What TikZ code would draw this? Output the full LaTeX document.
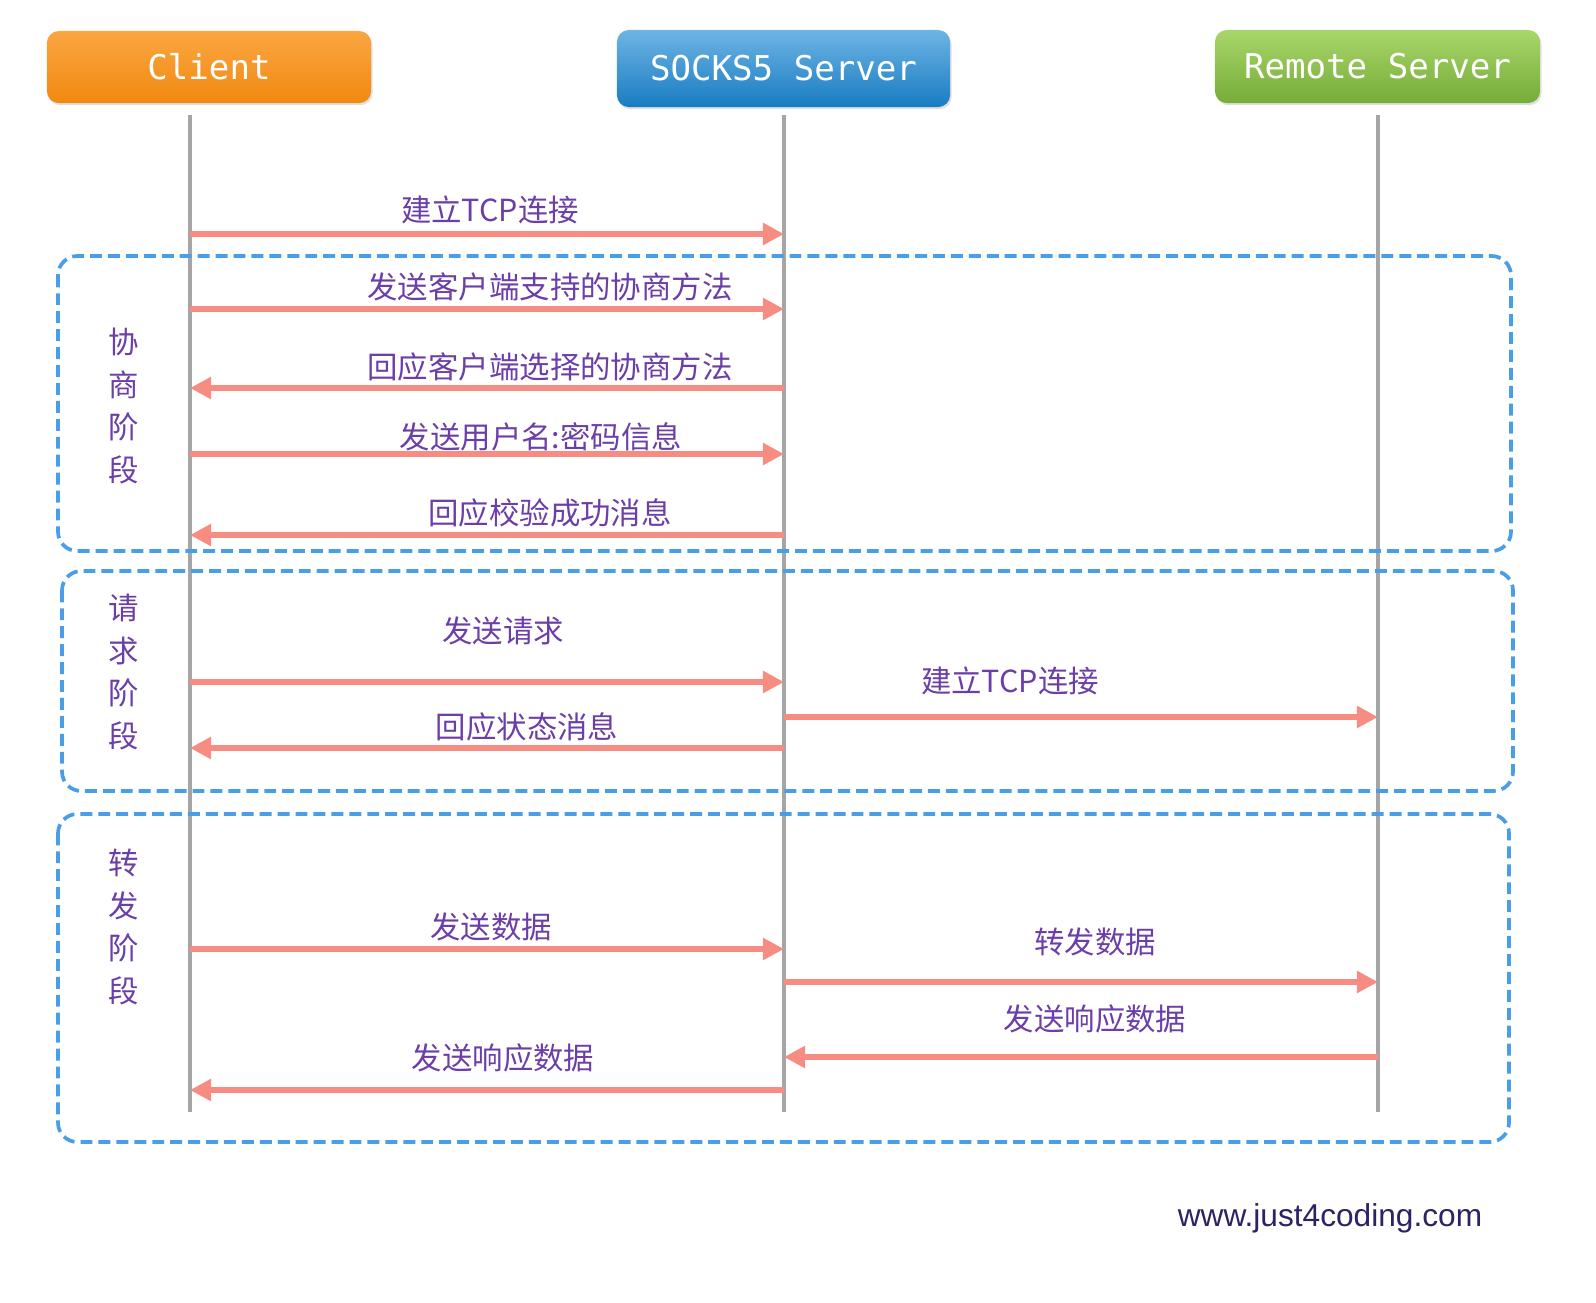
\documentclass[tikz,border=0pt]{standalone}
\usepackage{fontspec}
\newfontfamily\cjk{Noto Sans CJK SC}
\newfontfamily\headfont{DejaVu Sans Mono}
\newfontfamily\webfont{Liberation Sans}
\usepackage{tikz}
\usetikzlibrary{arrows.meta, shadows}
\definecolor{msgred}{RGB}{246,140,130}
\definecolor{txtpurple}{RGB}{108,62,168}
\definecolor{phaseblue}{RGB}{74,158,232}
\definecolor{lifegray}{RGB}{165,165,165}
\definecolor{webnavy}{RGB}{45,35,100}

\tikzset{
  head/.style={rounded corners=3.4pt, text=white, font=\headfont\fontsize{9.7}{11}\selectfont,
    drop shadow={opacity=0.25, shadow xshift=0.4pt, shadow yshift=-0.6pt}},
  life/.style={lifegray, line width=1pt},
  msg/.style={msgred, line width=1.6pt, -{Triangle[length=6pt,width=6pt]}},
  msgtext/.style={text=txtpurple, font=\cjk\fontsize{8.65}{10}\selectfont},
  phase/.style={phaseblue, line width=1.05pt, dash pattern=on 3.4pt off 1.7pt, rounded corners=5.5pt},
  phasetext/.style={text=txtpurple, font=\cjk\fontsize{8.65}{12.2}\selectfont, align=center}
}

\begin{document}
\begin{tikzpicture}[x=0.01cm, y=-0.01cm]
    \useasboundingbox (0,0) rectangle (1596,1302);

    % Header boxes
    \node[head, top color={rgb,255:red,250;green,166;blue,66}, bottom color={rgb,255:red,241;green,137;blue,16},
      minimum width=3.24cm, minimum height=0.72cm] (client) at (209,67) {Client};
    \node[head, top color={rgb,255:red,110;green,180;blue,228}, bottom color={rgb,255:red,24;green,124;blue,194},
      minimum width=3.33cm, minimum height=0.77cm] (socks) at (783.5,68.5) {SOCKS5 Server};
    \node[head, top color={rgb,255:red,168;green,214;blue,106}, bottom color={rgb,255:red,118;green,172;blue,56},
      minimum width=3.25cm, minimum height=0.73cm] (remote) at (1377.5,66.5) {Remote Server};

    % Lifelines
    \coordinate (cl) at (190,115); % client lifeline top
    \coordinate (sl) at (784,115); % socks lifeline top
    \coordinate (rl) at (1378,115); % remote lifeline top
    \coordinate (bot) at (0,1112); % bottom of lifelines
    \draw[life] (cl) -- (cl |- bot);
    \draw[life] (sl) -- (sl |- bot);
    \draw[life] (rl) -- (rl |- bot);

    % Phase boxes
    \draw[phase] (58,256) rectangle (1511,551);
    \draw[phase] (62,571) rectangle (1513,791);
    \draw[phase] (58,814) rectangle (1509,1142);
    \node[phasetext] (p1) at (124,406) {协\\商\\阶\\段};
    \node[phasetext] (p2) at (124,672) {请\\求\\阶\\段};
    \node[phasetext] (p3) at (124,927) {转\\发\\阶\\段};

    % Negotiation
    \draw[msg] (cl |- 0,234) -- (sl |- 0,234); % connect
    \node[msgtext] (m1) at (490,210) {建立TCP连接};
    \draw[msg] (cl |- 0,309) -- (sl |- 0,309);
    \node[msgtext] (m2) at (550,287) {发送客户端支持的协商方法};
    \draw[msg] (sl |- 0,388) -- (cl |- 0,388);
    \node[msgtext] (m3) at (550,367) {回应客户端选择的协商方法};
    \draw[msg] (cl |- 0,454) -- (sl |- 0,454);
    \node[msgtext] (m4) at (541,437) {发送用户名:密码信息};
    \draw[msg] (sl |- 0,535) -- (cl |- 0,535);
    \node[msgtext] (m5) at (550,513) {回应校验成功消息};

    % Request
    \draw[msg] (cl |- 0,682) -- (sl |- 0,682);
    \node[msgtext] (m6) at (503,631) {发送请求};
    \draw[msg] (sl |- 0,717) -- (rl |- 0,717);
    \node[msgtext] (m7) at (1010,681) {建立TCP连接};
    \draw[msg] (sl |- 0,748) -- (cl |- 0,748);
    \node[msgtext] (m8) at (527,727) {回应状态消息};

    % Forwarding
    \draw[msg] (cl |- 0,949) -- (sl |- 0,949);
    \node[msgtext] (m9) at (491,927) {发送数据};
    \draw[msg] (sl |- 0,982) -- (rl |- 0,982);
    \node[msgtext] (m10) at (1095,942) {转发数据};
    \draw[msg] (rl |- 0,1057) -- (sl |- 0,1057);
    \node[msgtext] (m11) at (1095,1019) {发送响应数据};
    \draw[msg] (sl |- 0,1090) -- (cl |- 0,1090);
    \node[msgtext] (m12) at (503,1058) {发送响应数据};

    % Watermark
    \node[text=webnavy, font=\webfont\fontsize{9}{11}\selectfont] (web) at (1330,1218) {www.just4coding.com};
\end{tikzpicture}
\end{document}
